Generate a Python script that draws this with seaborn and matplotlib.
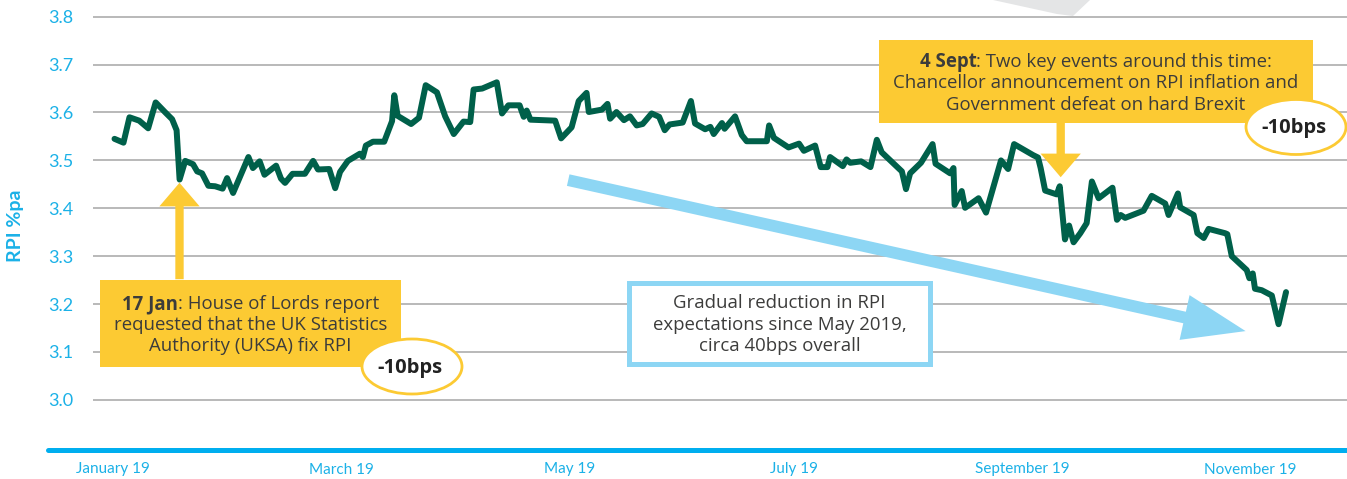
import numpy as np
import pandas as pd
import matplotlib.pyplot as plt
import seaborn as sns
from matplotlib.patches import Rectangle, Ellipse, FancyArrowPatch, Polygon
from matplotlib.lines import Line2D

sns.set_theme(style="white")
plt.rcParams['font.family'] = ['Lato', 'DejaVu Sans']

# days since 1 Jan 2019 and RPI expectations (%pa)
days = [0.4, 2.8, 4.4, 7.0, 9.4, 11.4, 14.0, 15.8, 17.0, 17.8,
        19.3, 21.4, 22.5, 23.8, 25.5, 27.3, 29.3, 30.5, 32.1, 36.2,
        37.4, 39.2, 40.5, 43.6, 44.9, 46.0, 48.0, 51.3, 53.5, 54.8,
        57.8, 59.4, 60.7, 62.8, 66.0, 66.8, 67.6, 69.5, 72.5, 74.6,
        75.2, 76.1, 79.7, 81.8, 83.6, 86.6, 88.8, 91.1, 93.7, 95.5,
        96.4, 98.7, 102.6, 104.0, 105.7, 108.7, 109.8, 110.6, 111.6, 118.2,
        119.8, 122.6, 124.5, 126.6, 127.2, 130.7, 132.2, 132.9, 134.6, 136.6,
        138.2, 140.0, 141.6, 144.0, 146.0, 147.5, 148.8, 152.3, 154.5, 155.6,
        158.3, 159.7, 160.6, 162.8, 163.5, 166.3, 168.1, 169.4, 174.8, 175.4,
        176.7, 180.6, 183.4, 184.7, 187.7, 189.2, 191.0, 191.7, 195.1, 196.1,
        197.1, 200.0, 202.5, 204.2, 205.5, 210.9, 212.0, 213.1, 216.0, 219.1,
        219.9, 223.8, 224.7, 225.0, 226.9, 227.8, 231.4, 233.4, 237.4, 239.3,
        240.9, 246.0, 247.3, 248.0, 249.2, 252.3, 253.1, 254.5, 255.6, 256.8,
        258.6, 260.3, 261.7, 263.5, 267.2, 268.4, 269.4, 270.6, 275.5, 277.7,
        281.3, 282.2, 284.7, 285.3, 288.9, 289.9, 291.6, 292.9, 297.3, 297.9,
        299.1, 303.1, 303.8, 304.7, 305.3, 307.1, 309.8, 311.6, 313.6]
rpi = [3.545, 3.537, 3.590, 3.583, 3.567, 3.621, 3.600, 3.586, 3.563, 3.460,
       3.499, 3.492, 3.477, 3.473, 3.447, 3.446, 3.441, 3.463, 3.432, 3.507,
       3.484, 3.498, 3.470, 3.489, 3.462, 3.453, 3.472, 3.472, 3.499, 3.481,
       3.482, 3.442, 3.476, 3.499, 3.514, 3.507, 3.531, 3.539, 3.539, 3.582,
       3.636, 3.593, 3.576, 3.589, 3.657, 3.642, 3.592, 3.555, 3.581, 3.580,
       3.648, 3.650, 3.663, 3.598, 3.615, 3.615, 3.591, 3.604, 3.585, 3.583,
       3.546, 3.569, 3.624, 3.641, 3.601, 3.606, 3.618, 3.587, 3.601, 3.584,
       3.592, 3.573, 3.576, 3.598, 3.591, 3.563, 3.575, 3.579, 3.624, 3.577,
       3.565, 3.570, 3.555, 3.578, 3.566, 3.592, 3.553, 3.540, 3.540, 3.573,
       3.547, 3.527, 3.535, 3.520, 3.531, 3.486, 3.486, 3.507, 3.488, 3.502,
       3.495, 3.498, 3.486, 3.543, 3.517, 3.477, 3.440, 3.473, 3.495, 3.534,
       3.493, 3.473, 3.484, 3.407, 3.436, 3.401, 3.421, 3.391, 3.500, 3.482,
       3.534, 3.511, 3.506, 3.484, 3.437, 3.429, 3.446, 3.335, 3.364, 3.329,
       3.348, 3.369, 3.456, 3.421, 3.443, 3.376, 3.386, 3.380, 3.395, 3.426,
       3.410, 3.386, 3.431, 3.402, 3.386, 3.348, 3.338, 3.357, 3.348, 3.346,
       3.300, 3.271, 3.254, 3.264, 3.232, 3.229, 3.218, 3.158, 3.225]

tick_days = [0, 61, 122, 182, 243, 304]
tick_labels = ["January 19", "March 19", "May 19", "July 19", "September 19", "November 19"]
y_ticks = [3.0, 3.1, 3.2, 3.3, 3.4, 3.5, 3.6, 3.7, 3.8]

W, H = 1347, 479
CYAN = "#1BB1E7"
GREEN = "#00604A"
YELLOW = "#FCCA33"
LBLUE = "#8DD6F4"
DARK = "#3C3C3B"
BOXFONT = ['Open Sans', 'DejaVu Sans']


def fx(px):
    return px / W


def fy(py):
    return 1 - py / H


df = pd.DataFrame({"day": days, "rpi": rpi})

fig = plt.figure(figsize=(W / 100, H / 100), dpi=100)
ax = fig.add_axes([fx(93), fy(450), (W - 93) / W, (450 - 14.3) / H])

sns.lineplot(data=df, x="day", y="rpi", color=GREEN, linewidth=4.3,
             errorbar=None, sort=False, ax=ax, zorder=3)

ax.set_xlim(-5.35, 329.9)
ax.set_ylim(2.8954, 3.805)
ax.set_yticks(y_ticks)
ax.set_yticklabels([f"{v:.1f}" for v in y_ticks])
ax.set_xticks(tick_days)
ax.set_xticklabels(tick_labels)
ax.tick_params(axis="y", length=0, pad=14, labelsize=13, labelcolor=CYAN)
ax.tick_params(axis="x", length=0, pad=9, labelsize=11, labelcolor=CYAN)
ax.grid(axis="y", color="#A6A6A6", linewidth=1.1)
ax.grid(axis="x", visible=False)
for s in ax.spines.values():
    s.set_visible(False)
ax.set_xlabel("")
ax.set_ylabel("")

fig.text(fx(16), fy(226), "RPI %pa", rotation=90, ha="center", va="center",
         color=CYAN, fontsize=14, fontweight="bold")

# blue baseline running under the tick labels
fig.add_artist(Line2D([fx(48), 1], [fy(450), fy(450)], color="#00AEEF",
                      linewidth=3.6, transform=fig.transFigure))

# grey decoration at the top
fig.patches.append(Polygon([(fx(993), fy(0)), (fx(1090), fy(0)), (fx(1073), fy(16)),
                            (fx(1057), fy(14))], closed=True, facecolor="#E4E5E6",
                           edgecolor="none", transform=fig.transFigure, zorder=0.5))


def box(x0, y0, x1, y1, face, edge=None, lw=0, z=4):
    fig.patches.append(Rectangle((fx(x0), fy(y1)), (x1 - x0) / W, (y1 - y0) / H,
                                 facecolor=face, edgecolor=edge if edge else "none",
                                 linewidth=lw, transform=fig.transFigure, zorder=z))


def arrow(p0, p1, style, color, z=4):
    fig.patches.append(FancyArrowPatch((fx(p0[0]), fy(p0[1])), (fx(p1[0]), fy(p1[1])),
                                       arrowstyle=style, mutation_scale=10,
                                       color=color, linewidth=0,
                                       transform=fig.transFigure, zorder=z))


def oval(cx, cy, w, h, label):
    fig.patches.append(Ellipse((fx(cx), fy(cy)), w / W, h / H, facecolor="white",
                               edgecolor=YELLOW, linewidth=2, transform=fig.transFigure,
                               zorder=6))
    fig.text(fx(cx - 2), fy(cy + 1), label, ha="center", va="center", fontsize=14.5,
             fontweight="bold", color="#222222", zorder=7, family=BOXFONT)


renderer = fig.canvas.get_renderer()


def lines(cx, ys, texts, bold_first=None, z=5, size=13.4):
    for i, (y, t) in enumerate(zip(ys, texts)):
        if i == 0 and bold_first:
            t1 = fig.text(0, fy(y), bold_first, fontsize=size, fontweight="bold",
                          color=DARK, va="center", ha="left", zorder=z, family=BOXFONT)
            t2 = fig.text(0, fy(y), t, fontsize=size, color=DARK, va="center",
                          ha="left", zorder=z, family=BOXFONT)
            w1 = t1.get_window_extent(renderer).width
            w2 = t2.get_window_extent(renderer).width
            start = cx - (w1 + w2) / 2
            t1.set_x(fx(start))
            t2.set_x(fx(start + w1))
        else:
            fig.text(fx(cx), fy(y), t, fontsize=size, color=DARK, va="center",
                     ha="center", zorder=z, family=BOXFONT)


# 17 Jan annotation
arrow((179.5, 282), (179.5, 180), "simple,head_length=1.7,head_width=2.9,tail_width=0.6", YELLOW)
box(100, 280, 401, 366.7, YELLOW)
lines(250.5, [304, 325, 346],
      [": House of Lords report", "requested that the UK Statistics",
       "Authority (UKSA) fix RPI"], bold_first="17 Jan")
oval(412, 366.5, 100, 55, "-10bps")

# 4 Sept annotation
arrow((1060.7, 120), (1060.7, 180), "simple,head_length=1.7,head_width=2.9,tail_width=0.6", YELLOW)
box(879, 40, 1313, 123.3, YELLOW)
lines(1096, [61.7, 83.3, 105],
      [": Two key events around this time:", "Chancellor announcement on RPI inflation and",
       "Government defeat on hard Brexit"], bold_first="4 Sept")
oval(1296, 127, 100, 55, "-10bps")

# downward trend arrow and note
arrow((565.5, 179.5), (1248.3, 331.7), "simple,head_length=4.5,head_width=3.3,tail_width=0.85", LBLUE)
box(629, 282.5, 930, 364.2, "white", edge=LBLUE, lw=3.6)
lines(779.5, [303.3, 325, 346],
      ["Gradual reduction in RPI", "expectations since May 2019,", "circa 40bps overall"])

fig.savefig("out.png", dpi=100)
